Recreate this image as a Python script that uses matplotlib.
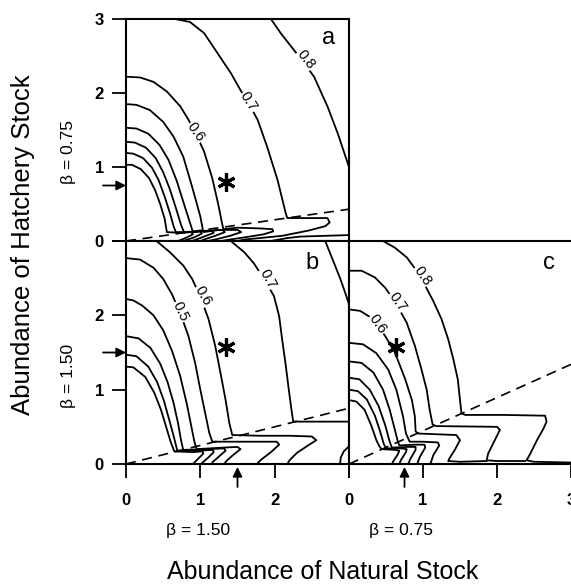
import matplotlib.pyplot as plt

plt.rcParams['font.family'] = ['Liberation Sans', 'DejaVu Sans']

# contour lines, (natural, hatchery) abundance
# panel a (beta 0.75 hatchery, 1.50 natural)
a_08 = [(1.95, 3.0), (2.08, 2.81), (2.26, 2.58), (2.40, 2.40), (2.53, 2.22), (2.71, 1.82),
        (2.85, 1.45), (2.94, 1.18), (3.0, 1.0)]
a_07 = [(0.66, 3.0), (0.86, 2.96), (1.05, 2.81), (1.23, 2.54), (1.41, 2.27), (1.54, 2.04),
        (1.66, 1.84), (1.77, 1.64), (1.90, 1.27), (2.04, 0.82), (2.15, 0.37), (2.17, 0.31),
        (2.45, 0.31), (2.71, 0.31), (2.74, 0.25), (2.68, 0.20), (2.45, 0.14), (2.10, 0.07),
        (1.80, 0.04), (1.60, 0.02), (1.50, 0.0)]
a_06 = [(0.0, 2.22), (0.19, 2.21), (0.37, 2.15), (0.55, 2.02), (0.73, 1.82), (0.84, 1.64),
        (0.94, 1.45), (1.05, 1.21), (1.16, 0.85), (1.24, 0.5), (1.29, 0.25), (1.31, 0.16),
        (1.5, 0.18), (1.8, 0.17), (1.97, 0.16), (1.98, 0.13), (1.85, 0.09), (1.6, 0.05),
        (1.4, 0.02), (1.28, 0.0)]
a_l2 = [(0.0, 1.85), (0.14, 1.84), (0.32, 1.77), (0.5, 1.61), (0.64, 1.41), (0.77, 1.14),
        (0.87, 0.8), (0.94, 0.55), (1.0, 0.33), (1.04, 0.12), (1.25, 0.15), (1.5, 0.15),
        (1.55, 0.12), (1.4, 0.07), (1.2, 0.02), (1.1, 0.0)]
a_l3 = [(0.0, 1.53), (0.14, 1.52), (0.30, 1.45), (0.45, 1.30), (0.57, 1.10), (0.68, 0.82),
        (0.78, 0.50), (0.86, 0.25), (0.90, 0.12), (1.10, 0.14), (1.30, 0.15), (1.33, 0.12),
        (1.20, 0.07), (1.05, 0.02), (1.0, 0.0)]
a_l4 = [(0.0, 1.34), (0.12, 1.33), (0.27, 1.26), (0.40, 1.12), (0.50, 0.93), (0.59, 0.70),
        (0.67, 0.45), (0.74, 0.22), (0.78, 0.12), (0.95, 0.13), (1.15, 0.14), (1.18, 0.11),
        (1.05, 0.06), (0.92, 0.01), (0.88, 0.0)]
a_l5 = [(0.0, 1.19), (0.10, 1.18), (0.23, 1.12), (0.35, 0.99), (0.44, 0.82), (0.52, 0.60),
        (0.59, 0.38), (0.64, 0.20), (0.67, 0.12), (0.85, 0.12), (1.0, 0.13), (1.02, 0.10),
        (0.92, 0.05), (0.80, 0.01), (0.77, 0.0)]
a_l6 = [(0.0, 1.03), (0.08, 1.03), (0.20, 0.97), (0.31, 0.85), (0.39, 0.69), (0.46, 0.50),
        (0.52, 0.30), (0.55, 0.12), (0.75, 0.11), (0.88, 0.12), (0.90, 0.09), (0.80, 0.04),
        (0.70, 0.0)]
a_low = [(1.95, 0.0), (2.17, 0.04), (2.35, 0.06), (3.0, 0.08)]
a_dash = [(0.0, 0.0), (3.0, 0.43)]

# panel b (beta 1.50 both)
b_08 = [(2.68, 3.0), (2.78, 2.75), (2.88, 2.5), (2.95, 2.3), (3.0, 2.15)]
b_07 = [(1.41, 3.0), (1.59, 2.85), (1.72, 2.70), (1.85, 2.50), (1.99, 2.26), (2.06, 1.99),
        (2.10, 1.68), (2.15, 1.32), (2.19, 1.0), (2.23, 0.70), (2.25, 0.57), (2.6, 0.57),
        (3.0, 0.57)]
b_07b = [(3.0, 0.24), (2.93, 0.17), (2.89, 0.09), (2.88, 0.0)]
b_06 = [(0.41, 3.0), (0.59, 2.85), (0.77, 2.67), (0.89, 2.49), (1.0, 2.25), (1.11, 1.95),
        (1.20, 1.59), (1.27, 1.23), (1.34, 0.86), (1.39, 0.55), (1.43, 0.39), (1.8, 0.38),
        (2.2, 0.38), (2.5, 0.37), (2.56, 0.32), (2.45, 0.25), (2.3, 0.15), (2.2, 0.05),
        (2.17, 0.0)]
b_05 = [(0.0, 2.77), (0.19, 2.75), (0.37, 2.64), (0.50, 2.49), (0.62, 2.28), (0.73, 2.03),
        (0.84, 1.72), (0.93, 1.36), (1.0, 1.0), (1.07, 0.66), (1.12, 0.42), (1.16, 0.30),
        (1.6, 0.30), (2.03, 0.30), (2.06, 0.26), (1.95, 0.16), (1.82, 0.06), (1.76, 0.0)]
b_l2 = [(0.0, 2.22), (0.10, 2.20), (0.22, 2.13), (0.37, 2.0), (0.50, 1.80), (0.62, 1.52),
        (0.73, 1.18), (0.82, 0.80), (0.88, 0.50), (0.92, 0.30), (0.95, 0.20), (1.3, 0.22),
        (1.5, 0.23), (1.54, 0.20), (1.44, 0.12), (1.35, 0.04), (1.32, 0.0)]
b_l3 = [(0.0, 1.72), (0.17, 1.69), (0.33, 1.56), (0.46, 1.35), (0.56, 1.10), (0.64, 0.82),
        (0.70, 0.55), (0.74, 0.32), (0.77, 0.19), (1.1, 0.20), (1.32, 0.21), (1.34, 0.18),
        (1.25, 0.10), (1.17, 0.03), (1.15, 0.0)]
b_l4 = [(0.0, 1.47), (0.14, 1.45), (0.30, 1.31), (0.42, 1.10), (0.51, 0.85), (0.58, 0.60),
        (0.64, 0.38), (0.69, 0.18), (1.0, 0.18), (1.17, 0.19), (1.18, 0.16), (1.10, 0.08),
        (1.03, 0.02), (1.01, 0.0)]
b_l5 = [(0.0, 1.31), (0.10, 1.30), (0.26, 1.17), (0.38, 0.96), (0.47, 0.73), (0.54, 0.50),
        (0.60, 0.30), (0.65, 0.17), (0.9, 0.16), (1.03, 0.17), (1.04, 0.14), (0.97, 0.07),
        (0.92, 0.02), (0.90, 0.0)]
b_dash = [(0.0, 0.0), (3.0, 0.75)]

# panel c (beta 1.50 hatchery, 0.75 natural)
c_08 = [(0.46, 3.0), (0.62, 2.91), (0.78, 2.78), (0.95, 2.55), (1.14, 2.19), (1.25, 1.95),
        (1.34, 1.68), (1.41, 1.41), (1.47, 1.14), (1.50, 0.86), (1.52, 0.68), (1.57, 0.66),
        (2.1, 0.66), (2.65, 0.65), (2.67, 0.57), (2.63, 0.48), (2.54, 0.32), (2.45, 0.14),
        (2.40, 0.05), (2.5, 0.03), (3.0, 0.02)]
c_07 = [(0.0, 2.60), (0.17, 2.60), (0.35, 2.51), (0.49, 2.37), (0.63, 2.17), (0.78, 1.90),
        (0.89, 1.59), (0.98, 1.27), (1.05, 1.0), (1.09, 0.73), (1.13, 0.53), (1.18, 0.51),
        (2.0, 0.50), (2.04, 0.46), (1.95, 0.28), (1.88, 0.14), (1.86, 0.05), (2.0, 0.04),
        (2.38, 0.04)]
c_06 = [(0.0, 2.08), (0.15, 2.06), (0.28, 1.98), (0.38, 1.87), (0.49, 1.72), (0.62, 1.50),
        (0.76, 1.14), (0.85, 0.86), (0.89, 0.64), (0.90, 0.44), (0.93, 0.41), (1.45, 0.39),
        (1.50, 0.32), (1.43, 0.19), (1.36, 0.08), (1.34, 0.04), (1.5, 0.03), (1.86, 0.04)]
c_l2 = [(0.0, 1.63), (0.19, 1.61), (0.37, 1.49), (0.53, 1.27), (0.64, 1.0), (0.73, 0.64),
        (0.77, 0.41), (0.82, 0.30), (1.0, 0.30), (1.2, 0.29), (1.22, 0.25), (1.14, 0.12),
        (1.10, 0.0)]
c_l3 = [(0.0, 1.38), (0.17, 1.36), (0.33, 1.23), (0.46, 1.0), (0.55, 0.73), (0.62, 0.46),
        (0.66, 0.30), (0.68, 0.25), (0.9, 0.26), (1.02, 0.26), (1.03, 0.22), (0.96, 0.10),
        (0.92, 0.0)]
c_l4 = [(0.0, 1.16), (0.14, 1.14), (0.28, 1.0), (0.40, 0.78), (0.49, 0.52), (0.55, 0.30),
        (0.58, 0.22), (0.8, 0.23), (0.9, 0.23), (0.9, 0.19), (0.83, 0.07), (0.80, 0.0)]
c_l5 = [(0.0, 1.0), (0.12, 0.98), (0.24, 0.87), (0.35, 0.65), (0.42, 0.44), (0.47, 0.27),
        (0.50, 0.21), (0.7, 0.21), (0.78, 0.20), (0.77, 0.16), (0.70, 0.05), (0.68, 0.0)]
c_l6 = [(0.0, 0.86), (0.10, 0.84), (0.21, 0.73), (0.30, 0.52), (0.37, 0.32), (0.41, 0.24),
        (0.44, 0.20), (0.62, 0.19), (0.68, 0.18), (0.66, 0.13), (0.60, 0.04), (0.58, 0.0)]
c_dash = [(0.0, 0.0), (3.0, 1.34)]

# optimum marked with an asterisk, beta values marked with arrows
star_a = (1.35, 0.80)
star_b = (1.35, 1.58)
star_c = (0.64, 1.58)
beta_hatch_a = 0.75
beta_hatch_b = 1.50
beta_nat_b = 1.50
beta_nat_c = 0.75

lines_a = [a_08, a_07, a_06, a_l2, a_l3, a_l4, a_l5, a_l6, a_low]
lines_b = [b_08, b_07, b_07b, b_06, b_05, b_l2, b_l3, b_l4, b_l5]
lines_c = [c_08, c_07, c_06, c_l2, c_l3, c_l4, c_l5, c_l6]

W, H = 571, 587
fig = plt.figure(figsize=(W / 100, H / 100), dpi=100)
ax_a = fig.add_axes([126 / W, 346 / H, 223 / W, 222 / H])
ax_b = fig.add_axes([126 / W, 123 / H, 223 / W, 223 / H])
ax_c = fig.add_axes([349 / W, 123 / H, 222 / W, 223 / H])


def draw(ax, lines, dash, star):
    for ln in lines:
        xs, ys = zip(*ln)
        ax.plot(xs, ys, color='black', lw=1.3, solid_joinstyle='round')
    xs, ys = zip(*dash)
    ax.plot(xs, ys, color='black', lw=1.2, dashes=(6, 4))
    ax.plot(*star, marker=(6, 2, 0), ms=13, mew=2.3, color='black')
    ax.set_xlim(0, 3)
    ax.set_ylim(0, 3)
    for s in ax.spines.values():
        s.set_linewidth(1.5)
    ax.tick_params(direction='out', length=10, width=1.3, labelsize=12, pad=6)
    for t in ax.get_xticklabels() + ax.get_yticklabels():
        t.set_fontweight('bold')


ax_a.set_xticks([])
ax_a.set_yticks([0, 1, 2, 3])
ax_b.set_yticks([0, 1, 2, 3], ['0', '1', '2', ''])
ax_b.set_xticks([0, 1, 2, 3], ['0', '1', '2', ''])
ax_c.set_xticks([0, 1, 2, 3])
ax_c.set_yticks([])

draw(ax_a, lines_a, a_dash, star_a)
draw(ax_b, lines_b, b_dash, star_b)
draw(ax_c, lines_c, c_dash, star_c)

ax_c.spines['right'].set_visible(False)
for ax in (ax_b, ax_c):
    ax.tick_params(axis='x', pad=11)

# contour value labels along the lines
lab = dict(fontsize=10.5, ha='center', va='center',
           bbox=dict(facecolor='white', edgecolor='none', pad=0.5))
ax_a.text(2.42, 2.45, '0.8', rotation=-52, **lab)
ax_a.text(1.65, 1.88, '0.7', rotation=-58, **lab)
ax_a.text(0.94, 1.47, '0.6', rotation=-55, **lab)
ax_b.text(1.90, 2.49, '0.7', rotation=-62, **lab)
ax_b.text(1.03, 2.26, '0.6', rotation=-60, **lab)
ax_b.text(0.73, 2.05, '0.5', rotation=-65, **lab)
ax_c.text(0.99, 2.53, '0.8', rotation=-55, **lab)
ax_c.text(0.65, 2.18, '0.7', rotation=-55, **lab)
ax_c.text(0.39, 1.88, '0.6', rotation=-55, **lab)

ax_a.text(2.72, 2.75, 'a', fontsize=17, ha='center', va='center')
ax_b.text(2.5, 2.7, 'b', fontsize=17, ha='center', va='center')
ax_c.text(2.7, 2.7, 'c', fontsize=17, ha='center', va='center')

arrow = dict(arrowstyle='-|>', color='black', lw=1.3, mutation_scale=14,
             shrinkA=0, shrinkB=0)
ax_a.annotate('', xy=(0, beta_hatch_a), xytext=(-23, 0), textcoords='offset pixels',
              arrowprops=arrow, annotation_clip=False)
ax_b.annotate('', xy=(0, beta_hatch_b), xytext=(-23, 0), textcoords='offset pixels',
              arrowprops=arrow, annotation_clip=False)
ax_b.annotate('', xy=(beta_nat_b, -0.04), xytext=(0, -20), textcoords='offset pixels',
              arrowprops=arrow, annotation_clip=False)
ax_c.annotate('', xy=(beta_nat_c, -0.04), xytext=(0, -20), textcoords='offset pixels',
              arrowprops=arrow, annotation_clip=False)

fig.text(23 / W, 1 - 245 / H, 'Abundance of Hatchery Stock', rotation=90,
         fontsize=18.5, ha='center', va='center')
fig.text(68 / W, 1 - 152 / H, 'β = 0.75', rotation=90, fontsize=12.5,
         ha='center', va='center')
fig.text(68 / W, 1 - 376 / H, 'β = 1.50', rotation=90, fontsize=12.5,
         ha='center', va='center')
fig.text(198 / W, 1 - 530 / H, 'β = 1.50', fontsize=12.5, ha='center', va='center')
fig.text(401 / W, 1 - 530 / H, 'β = 0.75', fontsize=12.5, ha='center', va='center')
fig.text(323 / W, 1 - 572 / H, 'Abundance of Natural Stock', fontsize=18,
         ha='center', va='center')

fig.savefig('out.png', dpi=100)
